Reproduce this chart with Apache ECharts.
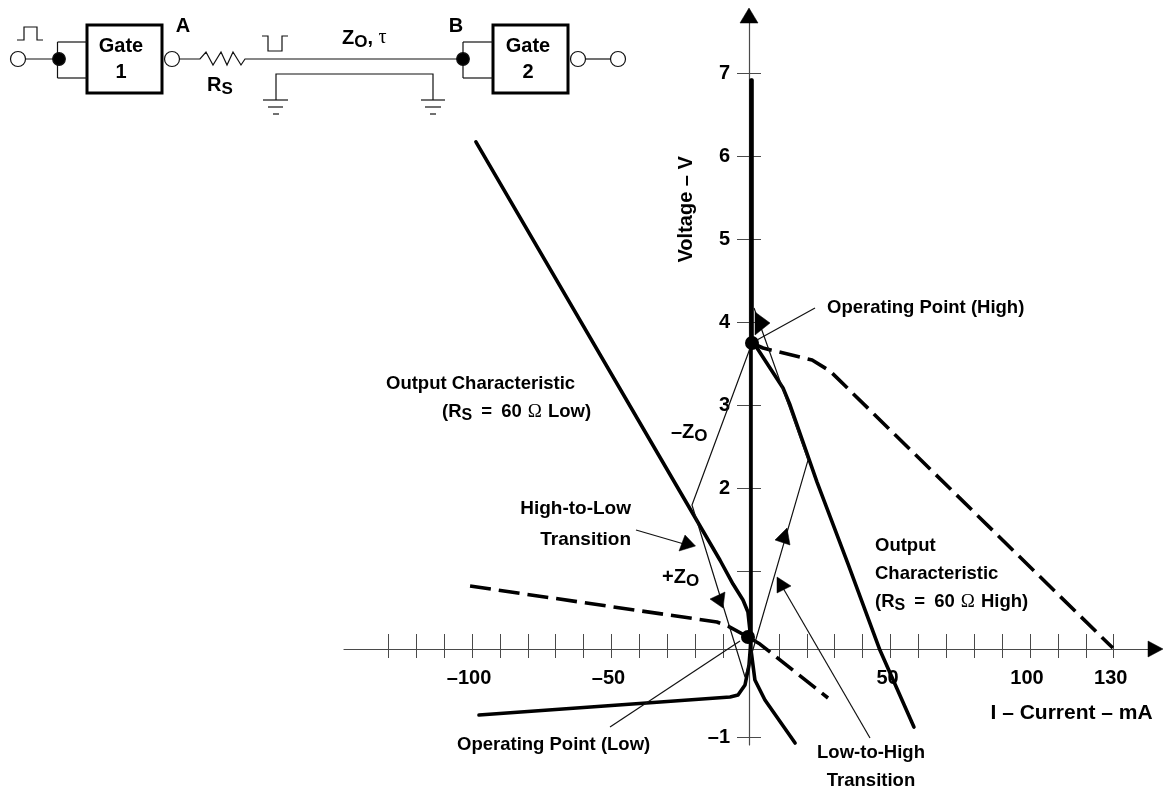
<!DOCTYPE html>
<html><head><meta charset="utf-8">
<style>html,body{margin:0;padding:0;background:#fff}#c{width:1167px;height:792px}</style>
<script src="https://cdn.jsdelivr.net/npm/echarts@6/dist/echarts.min.js"></script>
</head><body><div id="c"></div>
<script>
// tick positions and labels
const xTicks = [-130,-120,-110,-100,-90,-80,-70,-60,-50,-40,-30,-20,-10,0,10,20,30,40,50,60,70,80,90,100,110,120,130];
const xLabels = [-100,-50,50,100,130];
const yTicks = [-1,1,2,3,4,5,6,7];
const yLabels = [-1,2,3,4,5,6,7];
// curves: [current mA, voltage V]
const outputLowUpper = [[-98.6,6.17],[-11.1,1.13],[-6.45,0.843],[-2.87,0.651],[-1.1,0.506],[-0.4,0.289],[0,0.048],[1.4,-0.313],[5,-0.554],[15.8,-1.072]];
const outputLowLower = [[-97.5,-0.735],[-7.5,-0.518],[-4.66,-0.494],[-2.15,-0.373],[-0.72,-0.133],[0,0.169],[0,6.916]];
const outputHigh = [[0.36,6.916],[0.36,3.747],[2.15,3.687],[11.47,3.205],[14,3],[23.66,2.072],[34.8,1.084],[46.2,0.048],[58.4,-0.88]];
const dashedHigh = [[0.36,3.747],[4.3,3.687],[21.9,3.542],[28.3,3.41],[129.7,0.072]];
const dashedLow = [[-100.7,0.819],[-12.2,0.386],[-8.24,0.337],[-1.08,0.205],[3.2,0.12],[27.6,-0.53]];
const transitionPath = [[0.36,3.747],[-21.15,1.795],[-2.15,-0.277],[20.43,2.337],[1.08,4.169]];
const operatingPoints = [[0.36,3.747],[-1.08,0.205]];

const FONT = '"Liberation Sans", Arial, sans-serif';
const AX = '#4a4a4a';
const X_MIN=-145.88, X_MAX=144.98, Y_MIN=-1.096, Y_MAX=7.693;
const labelFmt = v => v<0 ? '\u2013'+Math.abs(v) : String(v);

function thick(name,data){return {name,type:'line',data,showSymbol:false,symbol:'none',silent:true,
  lineStyle:{color:'#000',width:3.6,cap:'round',join:'round'}}}
function dashed(name,data){return {name,type:'line',data,showSymbol:false,symbol:'none',silent:true,
  lineStyle:{color:'#000',width:3.6,type:[21,8],join:'round'}}}

const richT = {s:{fontFamily:FONT,fontSize:16,fontWeight:'bold',fill:'#000',padding:[8,0,0,0]},
  s2:{fontFamily:FONT,fontSize:17,fontWeight:'bold',fill:'#000',padding:[9,0,0,0]},
  g:{fontFamily:'"Liberation Serif","DejaVu Serif",serif',fontSize:20,fontWeight:'normal',fill:'#000'},
  o:{fontFamily:'"Liberation Serif","DejaVu Serif",serif',fontSize:19,fontWeight:'normal',fill:'#000',padding:[0,6,0,6]},
  e:{fontFamily:FONT,fontSize:18.5,fontWeight:'bold',fill:'#000',padding:[0,4,0,4]}};
function T(text,x,y,align,size){return {type:'text',z:20,silent:true,x,y,style:{text,x:0,y:0,
  fontFamily:FONT,fontSize:size||18.5,fontWeight:'bold',fill:'#000',align:align||'left',verticalAlign:'middle',rich:richT}}}
function L(pts,w){return {type:'polyline',z:15,silent:true,shape:{points:pts},style:{stroke:'#111',lineWidth:w||1.2,fill:null}}}
function P(pts){return {type:'polygon',z:15,silent:true,shape:{points:pts},style:{fill:'#000',stroke:'#000',lineWidth:0.5}}}
function C(x,y,r,filled){return {type:'circle',z:16,silent:true,shape:{cx:x,cy:y,r},style:{fill:filled?'#000':'#fff',stroke:'#111',lineWidth:1.2}}}
function Box(x,y,w,h){return {type:'rect',z:14,silent:true,shape:{x,y,width:w,height:h},style:{fill:'#fff',stroke:'#000',lineWidth:3}}}

const graphicEls = [
  // circuit
  L([[26,59],[59,59]]),L([[57.5,78],[57.5,42]]),L([[57.5,42],[87,42]]),L([[57.5,78],[87,78]]),
  C(18,59,7.5),C(59,59,6.3,true),Box(87,25,75,68),C(172,59,7.5),
  L([[17,40],[24,40],[24,27],[37,27],[37,40],[43,40]]),
  L([[179,59],[200,59],[206,52],[213,65],[221,52],[227,65],[233,52],[241,65],[245,59],[457,59]]),
  L([[262,36],[268,36],[268,51],[282,51],[282,36],[288,36]]),
  L([[276,100],[276,74],[433,74],[433,100]]),
  L([[263,100],[288,100]]),L([[268,107],[283,107]]),L([[273,114],[279,114]]),
  L([[421,100],[445,100]]),L([[425,107],[441,107]]),L([[430,114],[436,114]]),
  L([[463,42],[463,78]]),L([[463,42],[493,42]]),L([[463,78],[493,78]]),
  C(463,59,6.3,true),Box(493,25,75,68),C(578,59,7.5),L([[585,59],[610,59]]),C(618,59,7.5),
  T('Gate',121,46,'center',20),T('1',121,72,'center',20),T('Gate',528,46,'center',20),T('2',528,72,'center',20),
  T('A',183,26,'center',20),T('B',456,26,'center',20),
  T('R{s2|S}',207,85,'left',20),T('Z{s2|O}, {g|\u03C4}',342,38,'left',20),
  // axis arrowheads
  P([[749,8],[740,23],[758,23]]),P([[1163,649],[1148,641],[1148,657]]),
  // leaders and arrowheads
  L([[815,308],[757,340]]),L([[610,727],[740,641]]),L([[636,530],[684,544]]),L([[783,588],[870,738]]),
  P([[755,312],[770,323],[755,335]]),P([[787,528],[775,540],[790,545]]),P([[777,577],[791,586],[777,593]]),
  P([[695.5,546],[685,535],[679,551]]),P([[725,592],[710,599],[723,608]]),
  // annotations
  T('Operating Point (High)',827,308),
  T('Output Characteristic',386,384),T('(R{s|S} {e|=} 60{o|\u03A9}Low)',442,412),
  T('\u2013Z{s2|O}',671,432,'left',20),T('+Z{s2|O}',662,577,'left',20),
  T('High-to-Low',631,509,'right',19),T('Transition',631,540,'right',19),
  T('Output',875,546),T('Characteristic',875,574),T('(R{s|S} {e|=} 60{o|\u03A9}High)',875,602),
  T('Operating Point (Low)',457,745),
  T('Low-to-High',871,753,'center'),T('Transition',871,781,'center')
];

function xAx(inside,show){return {type:'value',position:'bottom',min:X_MIN,max:X_MAX,offset:-96,scale:true,
  splitLine:{show:false},
  axisLine:{show:show,onZero:false,lineStyle:{color:AX,width:1.2}},
  axisTick:{show:true,inside,length:inside?15:9,customValues:xTicks,lineStyle:{color:AX,width:1}},
  axisLabel:{show:show,customValues:xLabels,formatter:labelFmt,margin:19,padding:[0,6,0,0],
    fontFamily:FONT,fontSize:20,fontWeight:'bold',color:'#000',hideOverlap:false}}}
function yAx(inside,show){return {type:'value',position:'left',min:Y_MIN,max:Y_MAX,offset:-405,scale:true,
  splitLine:{show:false},
  axisLine:{show:show,onZero:false,lineStyle:{color:AX,width:1.2}},
  axisTick:{show:true,inside,length:12,customValues:yTicks,lineStyle:{color:AX,width:1}},
  axisLabel:{show:show,customValues:yLabels,formatter:labelFmt,margin:19,
    fontFamily:FONT,fontSize:20,fontWeight:'bold',color:'#000',hideOverlap:false}}}
// axes that only carry the axis titles, set at the titles' own positions
const xTitleAxis = {type:'value',position:'bottom',min:X_MIN,max:X_MAX,offset:-32,
  splitLine:{show:false},axisLine:{show:false,onZero:false},axisTick:{show:false},axisLabel:{show:false},
  name:'I \u2013 Current \u2013 mA',nameLocation:'end',nameGap:-165,
  nameTextStyle:{fontFamily:FONT,fontSize:21,fontWeight:'bold',color:'#000'}};
const yTitleAxis = {type:'value',position:'left',min:Y_MIN,max:Y_MAX,offset:-342,
  splitLine:{show:false},axisLine:{show:false,onZero:false},axisTick:{show:false},axisLabel:{show:false},
  name:'Voltage \u2013 V',nameLocation:'end',nameRotate:90,nameGap:-247,
  nameTextStyle:{fontFamily:FONT,fontSize:20,fontWeight:'bold',color:'#000'}};

const chart = echarts.init(document.getElementById('c'),null,{renderer:'canvas'});
chart.setOption({
  animation:false,
  backgroundColor:'#fff',
  grid:{left:344,right:11.5,top:15.5,bottom:47,containLabel:false},
  xAxis:[xAx(false,true),xAx(true,false),xTitleAxis],
  yAxis:[yAx(false,true),yAx(true,false),yTitleAxis],
  series:[
    thick('Output low',outputLowUpper),
    thick('Output low lower',outputLowLower),
    thick('Output high',outputHigh),
    dashed('Output high dashed',dashedHigh),
    dashed('Output low dashed',dashedLow),
    {name:'Transition path',type:'line',data:transitionPath,showSymbol:false,symbol:'none',silent:true,
      lineStyle:{color:'#111',width:1.2}},
    {name:'Operating points',type:'scatter',data:operatingPoints,symbolSize:14,silent:true,z:5,
      itemStyle:{color:'#000',opacity:1}}
  ],
  graphic:graphicEls
});
</script></body></html>
